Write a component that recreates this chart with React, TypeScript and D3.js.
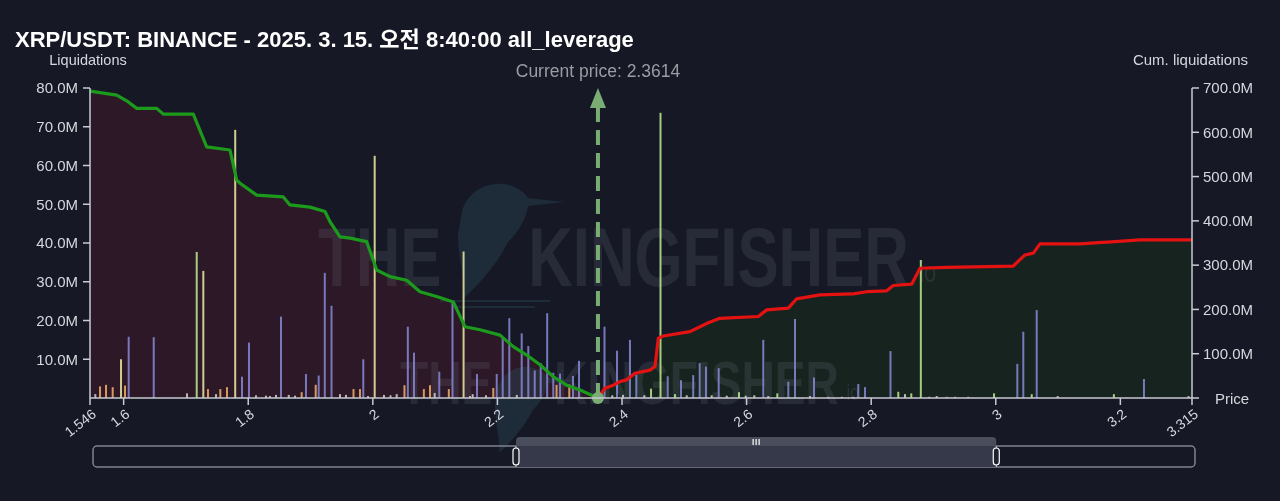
import React from 'react';
import * as d3 from 'd3';

// price range of the chart
const priceDomain = [1.546, 3.315];
const currentPrice = 2.3614;
const xTicks = [1.546, 1.6, 1.8, 2, 2.2, 2.4, 2.6, 2.8, 3, 3.2, 3.315];
const leftTicks = [10, 20, 30, 40, 50, 60, 70, 80];
const rightTicks = [100, 200, 300, 400, 500, 600, 700];

// cumulative long liquidations (below price), in M
const longCum: [number, number][] = [
  [1.546, 693], [1.5889, 684], [1.6049, 671], [1.621, 654], [1.6531, 654], [1.6637, 641],
  [1.7118, 641], [1.7333, 567], [1.7707, 560], [1.7815, 492], [1.7868, 485], [1.8136, 458],
  [1.8563, 454], [1.867, 436], [1.8992, 431], [1.9232, 421], [1.9313, 398], [1.9473, 364],
  [1.9634, 361], [1.9902, 353], [2.0062, 289], [2.0276, 274], [2.0544, 266], [2.0757, 240],
  [2.1025, 229], [2.1292, 217], [2.148, 161], [2.172, 154], [2.2042, 142], [2.2255, 116],
  [2.247, 97], [2.2684, 75], [2.2897, 48], [2.3112, 29], [2.3326, 18], [2.3614, 0],
];

// cumulative short liquidations (above price), in M
const shortCum: [number, number][] = [
  [2.3614, 0], [2.3727, 22], [2.386, 29], [2.3968, 37], [2.4075, 41], [2.4209, 56],
  [2.445, 63], [2.453, 71], [2.4583, 135], [2.4663, 140], [2.5091, 150], [2.5385, 170],
  [2.5573, 180], [2.6188, 184], [2.6323, 199], [2.667, 203], [2.6804, 224], [2.7178, 233],
  [2.7713, 235], [2.7928, 240], [2.8249, 242], [2.8355, 254], [2.865, 257], [2.8784, 293],
  [2.9212, 295], [3.0281, 298], [3.0469, 323], [3.0603, 327], [3.071, 348], [3.1352, 348],
  [3.2315, 357], [3.315, 357],
];

// liquidation bars: price, value (M), leverage group
const barPrices = [
  1.5545, 1.5621, 1.5717, 1.5824, 1.5958, 1.6022, 1.6081, 1.6483, 1.7017, 1.7173,
  1.7279, 1.7354, 1.7483, 1.7552, 1.7659, 1.7791, 1.79, 1.8012, 1.8125, 1.8285,
  1.8349, 1.8446, 1.8526, 1.865, 1.8751, 1.8858, 1.8927, 1.9083, 1.9131, 1.9229,
  1.9337, 1.9473, 1.9569, 1.969, 1.9794, 1.9847, 1.9923, 2.003, 2.0179, 2.0284,
  2.0383, 2.0508, 2.0562, 2.0661, 2.0819, 2.0918, 2.0993, 2.1067, 2.122, 2.1279,
  2.1457, 2.156, 2.1603, 2.1672, 2.1817, 2.1934, 2.1989, 2.2085, 2.2191, 2.2311,
  2.239, 2.2496, 2.2599, 2.2695, 2.2799, 2.2897, 2.2949, 2.3005, 2.3154, 2.3213,
  2.331, 2.3719, 2.3844, 2.392, 2.4016, 2.4128, 2.423, 2.4358, 2.4466, 2.4618,
  2.4734, 2.4851, 2.4947, 2.5039, 2.5143, 2.5247, 2.5348, 2.544, 2.5552, 2.5681,
  2.5878, 2.5986, 2.6124, 2.6268, 2.6348, 2.6493, 2.667, 2.6777, 2.7018, 2.7082,
  2.7312, 2.7527, 2.7713, 2.7793, 2.7901, 2.831, 2.8435, 2.8543, 2.8644, 2.8797,
  2.8933, 2.9052, 2.9213, 2.9346, 2.9559, 2.9972, 3.0346, 3.0442, 3.0577, 3.0657,
  3.0994, 3.1896, 3.2379, 3.3094,
];
const barValues = [
  1.0, 3.0, 3.4, 2.8, 10.0, 3.2, 15.8, 15.7, 1.2, 37.7,
  32.8, 2.3, 1.0, 2.3, 2.8, 69.2, 5.5, 14.3, 0.7, 0.6,
  0.5, 0.8, 21.0, 0.8, 0.6, 1.5, 6.2, 3.4, 5.8, 32.3,
  23.8, 1.0, 0.8, 2.3, 2.3, 10.0, 0.5, 62.5, 0.8, 0.7,
  1.0, 3.3, 18.4, 11.7, 2.3, 3.3, 1.3, 6.8, 2.3, 24.9,
  37.8, 0.5, 1.0, 6.2, 0.7, 2.6, 6.2, 15.8, 20.6, 0.8,
  16.7, 13.4, 7.1, 9.0, 21.9, 6.5, 3.4, 6.3, 3.5, 5.7,
  9.6, 18.4, 0.7, 12.2, 0.8, 15.0, 6.0, 0.7, 2.4, 73.6,
  5.6, 1.0, 4.6, 0.7, 5.9, 9.0, 8.1, 0.7, 7.7, 0.6,
  1.5, 0.6, 0.7, 15.0, 0.5, 1.2, 4.2, 20.4, 0.5, 5.3,
  0.3, 0.3, 0.3, 3.6, 2.8, 12.1, 1.6, 1.0, 1.2, 35.6,
  0.3, 0.5, 0.3, 0.3, 0.3, 1.2, 8.8, 17.1, 1.0, 22.7,
  0.5, 1.0, 4.9, 0.5,
];
const barGroups = [
  's', 'o', 'o', 'o', 'y', 'o', 'p', 'p', 's', 'g',
  'y', 'o', 's', 'o', 'o', 'y', 'p', 'p', 's', 's',
  's', 's', 'p', 's', 's', 'o', 'p', 'o', 'p', 'p',
  'p', 's', 's', 'o', 'o', 'p', 's', 'y', 's', 's',
  's', 'o', 'p', 'p', 'o', 'o', 's', 'p', 'o', 'p',
  'y', 's', 's', 'p', 's', 'o', 'p', 'p', 'p', 's',
  'p', 'p', 'p', 'p', 'p', 'p', 'o', 'p', 'o', 'p',
  'p', 'p', 's', 'p', 's', 'p', 'p', 's', 'g', 'g',
  'p', 'g', 'p', 's', 'p', 'p', 'p', 's', 'p', 's',
  'g', 's', 's', 'p', 's', 'g', 'p', 'p', 's', 'p',
  's', 's', 's', 'p', 'p', 'p', 'g', 's', 'g', 'g',
  's', 's', 's', 's', 's', 'g', 'p', 'p', 'g', 'p',
  's', 'g', 'p', 's',
];
const groupColors: Record<string, string> = {
  p: '#8283cc', g: '#b2e08a', y: '#e3e09c', o: '#eba765', s: '#c9cac4',
};

const slider = [2.225, 2.996];

const W = 1280;
const H = 501;
const margin = { top: 88, left: 90, right: 88, bottom: 103 };
const font = '"Liberation Sans", Arial, "Noto Sans CJK KR", sans-serif';
const axisColor = '#c9cad2';
const textColor = '#d6d7de';

const App: React.FC = () => {
  const x = d3.scaleLinear().domain(priceDomain).range([margin.left, W - margin.right]);
  const yL = d3.scaleLinear().domain([0, 80]).range([H - margin.bottom, margin.top]);
  const yR = d3.scaleLinear().domain([0, 700]).range([H - margin.bottom, margin.top]);
  const y0 = H - margin.bottom;
  const [x0, x1] = x.range();

  const line = d3.line<[number, number]>().x(d => x(d[0])).y(d => yR(d[1]));
  const area = d3.area<[number, number]>().x(d => x(d[0])).y0(y0).y1(d => yR(d[1]));

  const cx = x(currentPrice);
  const sx = d3.scaleLinear().domain(priceDomain).range([x0 + 3, x1 + 3]);
  const s0 = sx(slider[0]);
  const s1 = sx(slider[1]);

  // rough kingfisher silhouette for the watermark
  const bird = (bx: number, by: number, k: number) =>
    `M${bx},${by} c${4 * k},${-18 * k} ${22 * k},${-30 * k} ${42 * k},${-28 * k}` +
    ` c${12 * k},${2 * k} ${20 * k},${8 * k} ${24 * k},${14 * k} l${36 * k},${4 * k} l${-36 * k},${4 * k}` +
    ` c${-2 * k},${14 * k} ${-10 * k},${26 * k} ${-20 * k},${36 * k}` +
    ` c${-8 * k},${16 * k} ${-22 * k},${36 * k} ${-44 * k},${56 * k}` +
    ` c${0 * k},${-22 * k} ${-6 * k},${-44 * k} ${-6 * k},${-64 * k} z`;

  return (
    <svg width={W} height={H} style={{ position: 'absolute', left: 0, top: 0, fontFamily: font }}>
      <rect width={W} height={H} fill="#161925" />
      <defs>
        <clipPath id="plot">
          <rect x={x0} y={margin.top - 10} width={x1 - x0} height={y0 - margin.top + 10} />
        </clipPath>
      </defs>

      {/* cumulative areas */}
      <path d={area(longCum) || ''} fill="#2c1826" />
      <path d={area(shortCum) || ''} fill="#17231f" />

      {/* watermark */}
      <g fill="#2b4858" opacity={0.4}>
        <path d={bird(462, 212, 1)} />
        <path d={bird(498, 388, 0.75)} />
        <rect x={440} y={300} width={110} height={2} />
        <rect x={455} y={306} width={80} height={2} />
      </g>
      <g fill="#8d93a8" opacity={0.15} fontWeight="bold">
        <g transform="translate(318,286) scale(0.735,1)">
          <text fontSize={84}>
            THE<tspan dx={118}>KINGFISHER</tspan>
            <tspan dx={14} dy={-4} fontSize={30} fontWeight="normal">io</tspan>
          </text>
        </g>
        <g transform="translate(400,404) scale(0.745,1)">
          <text fontSize={62}>
            THE<tspan dx={83}>KINGFISHER</tspan>
            <tspan dx={10} dy={-4} fontSize={22} fontWeight="normal">io</tspan>
          </text>
        </g>
      </g>

      {/* bars */}
      <g clipPath="url(#plot)">
        {barPrices.map((p, i) => (
          <rect
            key={i}
            x={x(p) - 1}
            y={yL(barValues[i])}
            width={2}
            height={y0 - yL(barValues[i])}
            fill={groupColors[barGroups[i]]}
            opacity={0.9}
          />
        ))}
      </g>

      {/* cumulative lines */}
      <path d={line(longCum) || ''} fill="none" stroke="#1c9a1c" strokeWidth={3.2} strokeLinejoin="round" />
      <path d={line(shortCum) || ''} fill="none" stroke="#e51212" strokeWidth={3.2} strokeLinejoin="round" />

      {/* current price marker */}
      <g fill="#79ad74" stroke="#79ad74">
        <line x1={cx} x2={cx} y1={y0} y2={106} strokeWidth={4} strokeDasharray="15 8" />
        <path d={`M${cx - 8},${108} L${cx},${88} L${cx + 8},${108} Z`} stroke="none" />
        <circle cx={cx} cy={y0} r={6} stroke="none" />
      </g>
      <text x={cx} y={77} textAnchor="middle" fontSize={17.5} fill="#9b9ca3">
        Current price: {currentPrice}
      </text>

      {/* x axis */}
      <line x1={x0} x2={x1} y1={y0} y2={y0} stroke={axisColor} strokeWidth={1.5} />
      {xTicks.map(t => (
        <g key={t} transform={`translate(${x(t)},${y0})`}>
          <line y2={7} stroke={axisColor} strokeWidth={1.5} />
          <text
            transform="translate(4,14) rotate(-38)"
            textAnchor="end"
            fontSize={14}
            fill={textColor}
            dy="0.35em"
          >
            {t}
          </text>
        </g>
      ))}

      {/* left axis */}
      <line x1={x0} x2={x0} y1={margin.top} y2={y0} stroke={axisColor} strokeWidth={1.5} />
      {leftTicks.map(t => (
        <g key={t} transform={`translate(${x0},${yL(t)})`}>
          <line x2={-7} stroke={axisColor} strokeWidth={1.5} />
          <text x={-12} dy="0.35em" textAnchor="end" fontSize={15} fill={textColor}>
            {t.toFixed(1)}M
          </text>
        </g>
      ))}

      {/* right axis */}
      <line x1={x1} x2={x1} y1={margin.top} y2={y0} stroke={axisColor} strokeWidth={1.5} />
      {[0, ...rightTicks].map(t => (
        <g key={t} transform={`translate(${x1},${yR(t)})`}>
          <line x2={7} stroke={axisColor} strokeWidth={1.5} />
          {t > 0 && (
            <text x={11} dy="0.35em" fontSize={15} fill={textColor}>
              {t.toFixed(1)}M
            </text>
          )}
        </g>
      ))}

      {/* labels */}
      <text x={15} y={47} fontSize={22} fontWeight="bold" fill="#ffffff">
        XRP/USDT: BINANCE - 2025. 3. 15. 오전 8:40:00 all_leverage
      </text>
      <text x={88} y={65} textAnchor="middle" fontSize={14.5} fill={textColor}>Liquidations</text>
      <text x={1248} y={65} textAnchor="end" fontSize={15} fill={textColor}>Cum. liquidations</text>
      <text x={1215} y={404} fontSize={15} fill={textColor}>Price</text>

      {/* range slider */}
      <rect x={sx(priceDomain[0])} y={446} width={sx(priceDomain[1]) - sx(priceDomain[0])} height={21} rx={4}
        fill="none" stroke="#80838e" strokeWidth={1.5} />
      <path d={`M${s0},446 V441 q0,-4 4,-4 H${s1 - 4} q4,0 4,4 V446 Z`} fill="#4a4d5b" />
      <rect x={s0} y={446} width={s1 - s0} height={21} fill="#353949" />
      <g stroke="#ffffff" strokeWidth={1.2}>
        {[-3, 0, 3].map(d => (
          <line key={d} x1={(s0 + s1) / 2 + d} x2={(s0 + s1) / 2 + d} y1={439} y2={445} />
        ))}
      </g>
      {[s0, s1].map(s => (
        <g key={s}>
          <line x1={s} x2={s} y1={446} y2={467} stroke="#c9cad2" strokeWidth={1} />
          <rect x={s - 3} y={448} width={6} height={17} rx={3} fill="#1e2130" stroke="#ffffff" strokeWidth={1.2} />
        </g>
      ))}
    </svg>
  );
};

export default App;
